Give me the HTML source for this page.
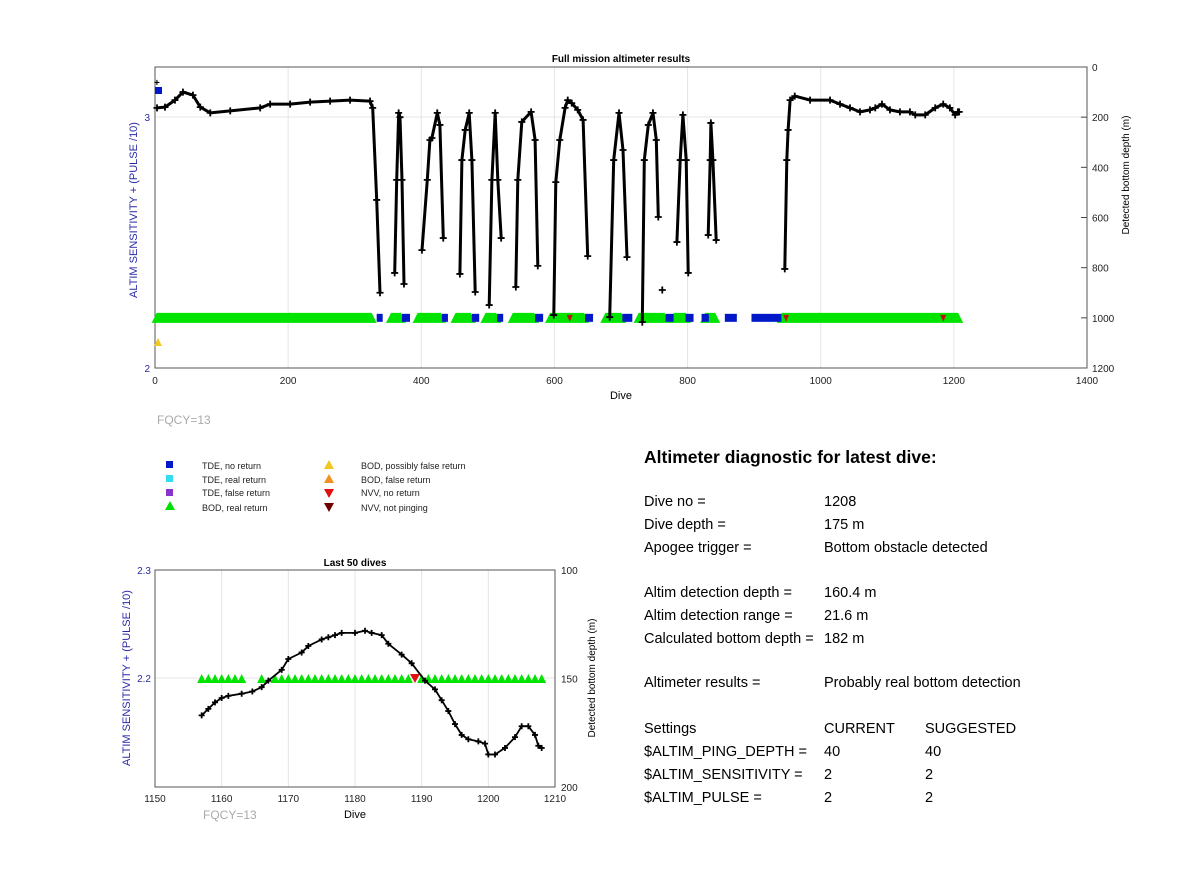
<!DOCTYPE html>
<html><head><meta charset="utf-8"><style>
body{margin:0;background:#fff;width:1200px;height:885px;overflow:hidden;font-family:"Liberation Sans",sans-serif}
svg{position:absolute;left:0;top:0}
</style></head><body>
<svg id="s" width="1200" height="885" xmlns="http://www.w3.org/2000/svg" font-family="Liberation Sans, sans-serif">
<g id="top"></g>
<g id="bot"></g>
<g font-size="9" fill="#222">
<rect x="166" y="461" width="7" height="7" fill="#0018c8"/>
<text x="202" y="469">TDE, no return</text>
<rect x="166" y="475" width="7" height="7" fill="#33ddee"/>
<text x="202" y="483">TDE, real return</text>
<rect x="166" y="489" width="7" height="7" fill="#8833cc"/>
<text x="202" y="496">TDE, false return</text>
<polygon points="165,510 170,501 175,510" fill="#00e000"/>
<text x="202" y="511">BOD, real return</text>
<polygon points="324,469 329,460 334,469" fill="#f0c820"/>
<text x="361" y="469">BOD, possibly false return</text>
<polygon points="324,483 329,474 334,483" fill="#f09020"/>
<text x="361" y="483">BOD, false return</text>
<polygon points="324,489 334,489 329,498" fill="#e01010"/>
<text x="361" y="496">NVV, no return</text>
<polygon points="324,503 334,503 329,512" fill="#700000"/>
<text x="361" y="511">NVV, not pinging</text>
</g>
<text x="157" y="424" font-size="12" fill="#aaa">FQCY=13</text>
<text x="203" y="819" font-size="12" fill="#aaa">FQCY=13</text>
<g font-size="14.5" fill="#000">
<text x="644" y="463" font-size="17.5" font-weight="bold">Altimeter diagnostic for latest dive:</text>
<text x="644" y="506">Dive no =</text><text x="824" y="506">1208</text>
<text x="644" y="529">Dive depth =</text><text x="824" y="529">175 m</text>
<text x="644" y="552">Apogee trigger =</text><text x="824" y="552">Bottom obstacle detected</text>
<text x="644" y="597">Altim detection depth =</text><text x="824" y="597">160.4 m</text>
<text x="644" y="620">Altim detection range =</text><text x="824" y="620">21.6 m</text>
<text x="644" y="643">Calculated bottom depth =</text><text x="824" y="643">182 m</text>
<text x="644" y="687">Altimeter results =</text><text x="824" y="687">Probably real bottom detection</text>
<text x="644" y="733">Settings</text><text x="824" y="733">CURRENT</text><text x="925" y="733">SUGGESTED</text>
<text x="644" y="756">$ALTIM_PING_DEPTH =</text><text x="824" y="756">40</text><text x="925" y="756">40</text>
<text x="644" y="779">$ALTIM_SENSITIVITY =</text><text x="824" y="779">2</text><text x="925" y="779">2</text>
<text x="644" y="802">$ALTIM_PULSE =</text><text x="824" y="802">2</text><text x="925" y="802">2</text>
</g>
</svg>
<script>
// ---- top chart data ----
const topDives=[3,15,30,42,57,68,83,113,158,173,203,233,263,293,323,327,333,338,null,360,363,366,368,371,374,null,401,409,413,416,424,428,433,null,458,461,466,472,476,481,null,502,506,511,515,520,null,542,545,551,565,571,575,null,599,602,608,616,620,626,635,643,650,null,683,689,697,703,709,null,732,735,741,748,753,756,null,762,null,784,789,793,798,801,null,831,834,835,838,843,null,946,949,951,954,961,984,1014,1029,1044,1059,1074,1082,1092,1104,1119,1134,1142,1157,1172,1184,1194,1202,1206,1208];
const topDepths=[163,160,132,100,112,160,183,175,163,148,148,140,136,132,136,163,530,900,null,821,450,183,200,450,865,null,730,450,291,283,183,231,682,null,825,371,251,183,371,897,null,949,450,183,450,682,null,877,450,219,179,291,793,null,989,459,291,163,132,144,171,211,754,null,997,371,183,331,758,null,1017,371,231,183,291,598,null,889,null,698,371,191,371,821,null,670,371,223,371,690,null,805,371,251,132,116,132,132,148,163,179,171,163,148,171,179,179,191,191,163,148,163,191,179,179];
const greenRanges=[[1,327],[353,371],[393,431],[450,476],[495,514],[536,571],[592,646],[675,702],[725,767],[778,799],[825,843],[940,1208]];
const blueRanges=[[333,342],[371,383],[431,440],[476,487],[514,523],[571,583],[646,658],[702,717],[767,779],[797,809],[821,832],[856,874],[896,941]];
const redDives=[623,948,1184];
const topXTicks=[0,200,400,600,800,1000,1200,1400];
const topRTicks=[0,200,400,600,800,1000,1200];
const topLTicks=[2,3];
// ---- bottom chart data ----
const botDives=[1157,1158,1159,1160,1161,1163,1164.6,1166,1167,1169,1170,1172,1173,1175,1176,1177,1178,1180,1181.5,1182.5,1184,1185,1187,1188.5,1190.5,1192,1193,1194,1195,1196,1197,1198.5,1199.5,1200,1201,1202.5,1204,1205,1206,1207,1207.5,1208];
const botDepths=[167,164,161,159,158,157,156,154,151,146,141,138,135,132,131,130,129,129,128,129,130,134,139,143,151,155,160,165,171,176,178,179,180,185,185,182,177,172,172,176,181,182];
const botGreen=[1157,1158,1159,1160,1161,1162,1163,1166,1168,1169,1170,1171,1172,1173,1174,1175,1176,1177,1178,1179,1180,1181,1182,1183,1184,1185,1186,1187,1188,1190,1191,1192,1193,1194,1195,1196,1197,1198,1199,1200,1201,1202,1203,1204,1205,1206,1207,1208];
const botRed=[1189];
const botXTicks=[1150,1160,1170,1180,1190,1200,1210];
const botRTicks=[100,150,200];
const botLTicks=[2.2,2.3];

const NS="http://www.w3.org/2000/svg";
function mk(p,t,a){const e=document.createElementNS(NS,t);for(const k in a)e.setAttribute(k,a[k]);p.appendChild(e);return e;}

const tx=d=>155+d/1400*932, tyR=v=>67+v/1200*301, tyL=v=>368-(v-2)*251;
const T=document.getElementById('top');
for(const t of topXTicks){const g=mk(T,'line',{x1:tx(t),x2:tx(t),y1:67,y2:368,stroke:'#e4e4e4'});


const l=mk(T,'text',{x:tx(t),y:384,'font-size':10,'text-anchor':'middle',fill:'#222'});l.textContent=t;

}
mk(T,'line',{x1:155,x2:1087,y1:tyL(3),y2:tyL(3),stroke:'#e4e4e4'});
for(const t of topRTicks){const l=mk(T,'text',{x:1092,y:tyR(t)+4,'font-size':10,fill:'#222'});l.textContent=t;


mk(T,'line',{x1:1081,x2:1087,y1:tyR(t),y2:tyR(t),stroke:'#444'});}
for(const t of topLTicks){const l=mk(T,'text',{x:150,y:tyL(t)+4,'font-size':10,'text-anchor':'end',fill:'#2a2aa8'});l.textContent=t;

}
const fr=mk(T,'rect',{x:155,y:67,width:932,height:301,fill:'none',stroke:'#555'});


let tt=mk(T,'text',{x:621,y:62,'font-size':10,'font-weight':'bold','text-anchor':'middle'});tt.textContent='Full mission altimeter results';


tt=mk(T,'text',{x:621,y:399,'font-size':11,'text-anchor':'middle'});tt.textContent='Dive';


tt=mk(T,'text',{x:137,y:210,'font-size':11,'text-anchor':'middle',fill:'#2a2aa8',transform:'rotate(-90 137 210)'});tt.textContent='ALTIM SENSITIVITY + (PULSE /10)';


tt=mk(T,'text',{x:1129,y:175,'font-size':10,'text-anchor':'middle',transform:'rotate(-90 1129 175)'});tt.textContent='Detected bottom depth (m)';


const yb=tyR(1000);
for(const r of greenRanges){const p=mk(T,'polygon',{points:`${tx(r[0])-4},${yb+5} ${tx(r[0])+1},${yb-5} ${tx(r[1])-1},${yb-5} ${tx(r[1])+4},${yb+5}`,fill:'#00e400'});

}
for(const r of blueRanges){const p=mk(T,'rect',{x:tx(r[0]),y:yb-4,width:Math.max(6,tx(r[1])-tx(r[0])),height:8,fill:'#0018c8'});

}
for(const d of redDives){const p=mk(T,'polygon',{points:`${tx(d)-3},${yb-3} ${tx(d)+3},${yb-3} ${tx(d)},${yb+4}`,fill:'#c01010'});

}
mk(T,'rect',{x:155,y:87,width:7,height:7,fill:'#0018c8'});
mk(T,'polygon',{points:'154,346 158,338 162,346',fill:'#f0c820'});
mk(T,'text',{x:154,y:86,'font-size':10,'font-weight':'bold'}).textContent='+';
function drawLine(G,xs,ys,fx,fy,name,w,ms){let d='',pen=false;
for(let i=0;i<xs.length;i++){if(xs[i]===null){pen=false;continue;}
d+=(pen?'L':'M')+fx(xs[i]).toFixed(1)+','+fy(ys[i]).toFixed(1);pen=true;}
const p=mk(G,'path',{d:d,fill:'none',stroke:'#000','stroke-width':w,'stroke-linejoin':'round'});


for(let i=0;i<xs.length;i++){if(xs[i]===null)continue;const x=fx(xs[i]),y=fy(ys[i]);
const m=mk(G,'path',{d:`M${x-ms},${y}h${2*ms}M${x},${y-ms}v${2*ms}`,stroke:'#000','stroke-width':1.8});

}}
drawLine(T,topDives,topDepths,tx,tyR,'bottom-depth-line',3,3.5);

const bx=d=>155+(d-1150)/60*400, byR=v=>570+(v-100)*2.17, byL=v=>570+(2.3-v)*1080;
const B=document.getElementById('bot');
for(const t of botXTicks){const g=mk(B,'line',{x1:bx(t),x2:bx(t),y1:570,y2:787,stroke:'#e4e4e4'});


const l=mk(B,'text',{x:bx(t),y:802,'font-size':10,'text-anchor':'middle',fill:'#222'});l.textContent=t;

}
mk(B,'line',{x1:155,x2:555,y1:byL(2.2),y2:byL(2.2),stroke:'#e4e4e4'});
for(const t of botRTicks){const l=mk(B,'text',{x:561,y:byR(t)+4,'font-size':10,fill:'#222'});l.textContent=t;

}
for(const t of botLTicks){const l=mk(B,'text',{x:151,y:byL(t)+4,'font-size':10,'text-anchor':'end',fill:'#2a2aa8'});l.textContent=t.toFixed(1);

}
const fr2=mk(B,'rect',{x:155,y:570,width:400,height:217,fill:'none',stroke:'#555'});


tt=mk(B,'text',{x:355,y:566,'font-size':10,'font-weight':'bold','text-anchor':'middle'});tt.textContent='Last 50 dives';


tt=mk(B,'text',{x:355,y:818,'font-size':11,'text-anchor':'middle'});tt.textContent='Dive';


tt=mk(B,'text',{x:130,y:678,'font-size':11,'text-anchor':'middle',fill:'#2a2aa8',transform:'rotate(-90 130 678)'});tt.textContent='ALTIM SENSITIVITY + (PULSE /10)';


tt=mk(B,'text',{x:595,y:678,'font-size':10,'text-anchor':'middle',transform:'rotate(-90 595 678)'});tt.textContent='Detected bottom depth (m)';


const yg=byL(2.2);
for(const d of botGreen){const p=mk(B,'polygon',{points:`${bx(d)-4.5},${yg+5} ${bx(d)},${yg-4} ${bx(d)+4.5},${yg+5}`,fill:'#00e400'});

}
for(const d of botRed){const p=mk(B,'polygon',{points:`${bx(d)-5},${yg-4} ${bx(d)+5},${yg-4} ${bx(d)},${yg+5}`,fill:'#e01010'});

}
drawLine(B,botDives,botDepths,bx,byR,'last-dives-depth-line',1.8,3);
</script>
</body></html>
